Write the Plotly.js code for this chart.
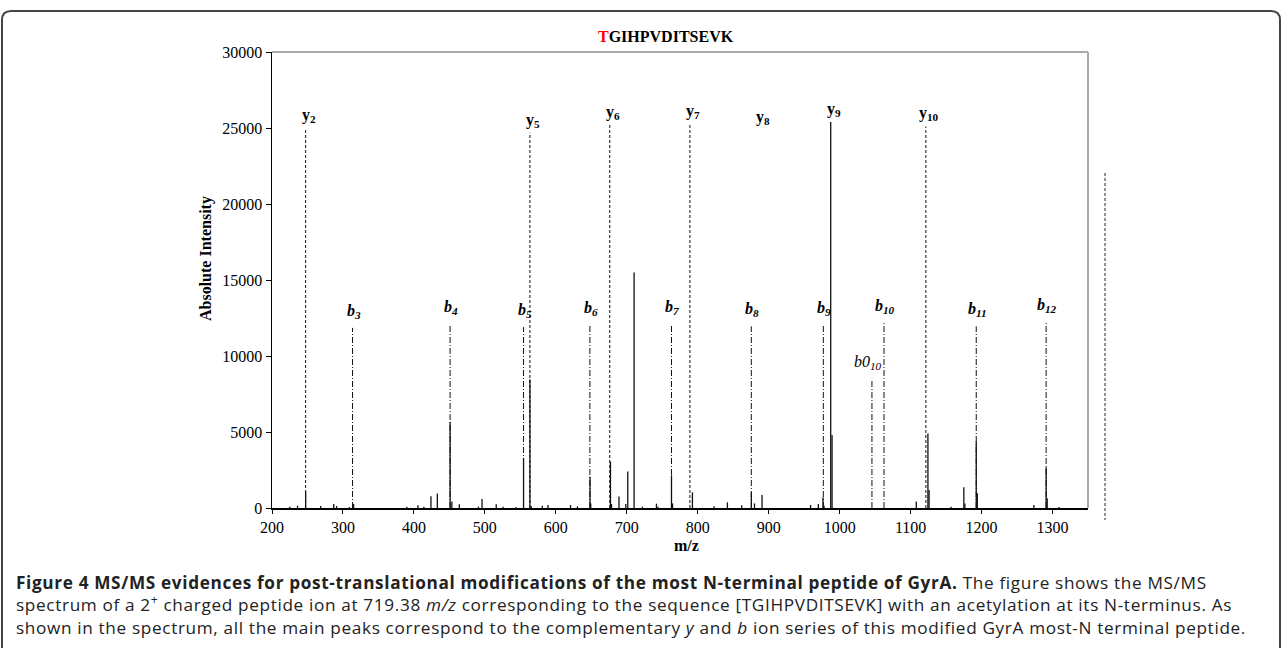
<!DOCTYPE html>
<html>
<head>
<meta charset="utf-8">
<script src="https://cdn.plot.ly/plotly-3.0.1.min.js"></script>
<style>
html,body{margin:0;padding:0;background:#fff;}
#chart{width:1282px;height:650px;}
</style>
</head>
<body>
<div id="chart"></div>
<script>
// ---- Data ----
const peakMz = [225, 236, 247.4, 268.6, 287, 291, 309, 315, 390, 405.6, 414, 424, 433, 451, 453.5, 464, 491, 496, 516, 525.6, 544, 554.5, 563.5, 565.5, 581, 589, 620.7, 630.5, 648.2, 649.2, 677, 678.5, 689, 698.6, 701.4, 710.3, 722, 741.8, 744, 763, 764.5, 792.5, 823, 841.8, 862, 875.6, 880, 890.6, 959, 970, 976.5, 978, 987.4, 989.3, 1108, 1124.4, 1126, 1157, 1175, 1176.5, 1192.5, 1194, 1273.7, 1291, 1292.5, 1309];
const peakInt = [90, 150, 1080, 130, 260, 130, 70, 260, 90, 175, 90, 780, 960, 5650, 420, 240, 90, 600, 240, 90, 60, 3300, 8450, 110, 150, 200, 200, 110, 2060, 300, 3050, 260, 750, 260, 2400, 15500, 90, 285, 90, 2150, 300, 1030, 110, 370, 175, 1030, 300, 860, 200, 260, 700, 150, 25400, 4800, 420, 4900, 1180, 90, 1360, 300, 4380, 970, 200, 2680, 640, 70];

// y-ion series (dashed markers)
const yIonLabels = ["2", "5", "6", "7", "8", "9", "10"];
const yIonMz = [247.4, 563.5, 676, 789, 888, 987.4, 1121.5];
const yIonTop = [25000, 24700, 25200, 25250, 24900, 25400, 25100];
const yIonDrawn = [true, true, true, true, false, false, true]; // y8 unlabeled line, y9 is the peak itself

// b-ion series (dash-dot markers)
const bIonLabels = ["3", "4", "5", "6", "7", "8", "9", "10", "11", "12"];
const bIonMz = [313.5, 451, 554.5, 648, 763, 875.5, 977, 1062.5, 1192.5, 1291];
const bIonTop = [11850, 12100, 11900, 12050, 12100, 11950, 12050, 12200, 11950, 12250];
// water-loss b ion
const b0Mz = 1045.5;
const b0Top = 8500;

const sequenceRest = "GIHPVDITSEVK";
const sequenceFirst = "T";

// ---- Build traces ----
function sticks(xs, ys) {
  const X = [], Y = [];
  xs.forEach((x, i) => { X.push(x, x, null); Y.push(0, ys[i], null); });
  return {X, Y};
}
const sp = sticks(peakMz, peakInt);
const yx = [], yy = [];
yIonMz.forEach((m, i) => { if (yIonDrawn[i]) { yx.push(m); yy.push(yIonTop[i]); } });
const ySt = sticks(yx, yy);
const bSt = sticks(bIonMz.concat([b0Mz]), bIonTop.concat([b0Top]));

const traces = [
  {x: ySt.X, y: ySt.Y, type: 'scatter', mode: 'lines', line: {color: '#111', width: 1, dash: '3px,2px'}, hoverinfo: 'skip', showlegend: false},
  {x: bSt.X, y: bSt.Y, type: 'scatter', mode: 'lines', line: {color: '#111', width: 1, dash: '6px,2px,1px,2px'}, hoverinfo: 'skip', showlegend: false},
  {x: sp.X, y: sp.Y, type: 'scatter', mode: 'lines', line: {color: '#111', width: 1.3}, hoverinfo: 'skip', showlegend: false}
];

const serif = 'Liberation Serif, Times New Roman, serif';
const annotations = [];
yIonLabels.forEach((lab, i) => {
  annotations.push({x: yIonMz[i], y: yIonTop[i], xref: 'x', yref: 'y', text: '<b>y<sub>' + lab + '</sub></b>',
    showarrow: false, xanchor: 'center', yanchor: 'bottom', xshift: 3, yshift: 1, font: {family: serif, size: 16, color: '#000'}});
});
bIonLabels.forEach((lab, i) => {
  annotations.push({x: bIonMz[i], y: bIonTop[i], xref: 'x', yref: 'y', text: '<b><i>b</i><sub><i>' + lab + '</i></sub></b>',
    showarrow: false, xanchor: 'center', yanchor: 'bottom', xshift: 1, yshift: 5, font: {family: serif, size: 16, color: '#000'}});
});
annotations.push({x: b0Mz, y: b0Top, xref: 'x', yref: 'y', text: '<i>b0<sub>10</sub></i>',
  showarrow: false, xanchor: 'center', yanchor: 'bottom', xshift: -4, yshift: 5, font: {family: serif, size: 16, color: '#000'}});

// pixel helpers (plot area 272..1088 x, 52..508 y)
const L = 272, R = 1088, T = 52, B = 508;
const px = p => (p - L) / (R - L);
const py = p => (B - p) / (B - T);

annotations.push({x: px(666), y: py(37), xref: 'paper', yref: 'paper', showarrow: false, xanchor: 'center', yanchor: 'middle',
  text: '<b><span style="color:#ff0000">' + sequenceFirst + '</span>' + sequenceRest + '</b>', font: {family: serif, size: 16, color: '#000'}});
annotations.push({x: px(206), y: py(259), xref: 'paper', yref: 'paper', showarrow: false, textangle: -90, xanchor: 'center', yanchor: 'middle',
  text: '<b>Absolute Intensity</b>', font: {family: serif, size: 16, color: '#000'}});
annotations.push({x: px(686), y: py(545), xref: 'paper', yref: 'paper', showarrow: false, xanchor: 'center', yanchor: 'middle',
  text: '<b>m/z</b>', font: {family: serif, size: 16, color: '#000'}});

const capFont = {family: 'Open Sans, Noto Sans, sans-serif', size: 17.2, color: '#222'};
const ls = 'letter-spacing:0.65px';
const capLines = [
  '<span style="' + ls + '"><b>Figure 4 MS/MS evidences for post-translational modifications of the most N-terminal peptide of GyrA.</b> The figure shows the MS/MS</span>',
  '<span style="' + ls + '">spectrum of a 2<sup>+</sup> charged peptide ion at 719.38 <i>m/z</i> corresponding to the sequence [TGIHPVDITSEVK] with an acetylation at its N-terminus. As</span>',
  '<span style="' + ls + '">shown in the spectrum, all the main peaks correspond to the complementary <i>y</i> and <i>b</i> ion series of this modified GyrA most-N terminal peptide.</span>'
];
annotations.push({x: px(14), y: py(604.5), xref: 'paper', yref: 'paper', showarrow: false, xanchor: 'left', yanchor: 'middle',
  align: 'left', text: capLines.join('<br>'), font: capFont});

const r = 9;
const framePath = 'M ' + px(2) + ' ' + py(648) + ' L ' + px(2) + ' ' + py(11 + r) +
  ' Q ' + px(2) + ' ' + py(11) + ' ' + px(2 + r) + ' ' + py(11) +
  ' L ' + px(1280 - r) + ' ' + py(11) + ' Q ' + px(1280) + ' ' + py(11) + ' ' + px(1280) + ' ' + py(11 + r) +
  ' L ' + px(1280) + ' ' + py(648);

const shapes = [
  {type: 'path', xref: 'paper', yref: 'paper', path: framePath, line: {color: '#444', width: 2}},
  {type: 'line', xref: 'paper', yref: 'paper', x0: 0, x1: 1, y0: 1, y1: 1, line: {color: '#aaa', width: 2}},
  {type: 'line', xref: 'paper', yref: 'paper', x0: 1, x1: 1, y0: 0, y1: 1, line: {color: '#aaa', width: 2}},
  {type: 'line', xref: 'paper', yref: 'paper', x0: px(1105), x1: px(1105), y0: py(173), y1: py(520), line: {color: '#222', width: 1, dash: '3px,2px'}}
];

const layout = {
  width: 1282, height: 650,
  margin: {l: L, r: 1282 - R, t: T, b: 650 - B, pad: 0},
  paper_bgcolor: '#fff', plot_bgcolor: '#fff',
  showlegend: false,
  xaxis: {range: [200, 1350], tickvals: [200, 300, 400, 500, 600, 700, 800, 900, 1000, 1100, 1200, 1300],
    showgrid: false, zeroline: false, showline: true, linecolor: '#000', linewidth: 1.5,
    ticks: 'outside', ticklen: 4, tickcolor: '#000', tickwidth: 1, tickformat: 'd',
    tickfont: {family: serif, size: 16, color: '#000'}, fixedrange: true},
  yaxis: {range: [0, 30000], tickvals: [0, 5000, 10000, 15000, 20000, 25000, 30000],
    showgrid: false, zeroline: false, showline: true, linecolor: '#000', linewidth: 1.5,
    ticks: 'outside', ticklen: 5, tickcolor: '#000', tickwidth: 1, tickformat: 'd',
    tickfont: {family: serif, size: 16, color: '#000'}, fixedrange: true},
  annotations: annotations,
  shapes: shapes
};

Plotly.newPlot('chart', traces, layout, {displayModeBar: false, staticPlot: true});
</script>
</body>
</html>
